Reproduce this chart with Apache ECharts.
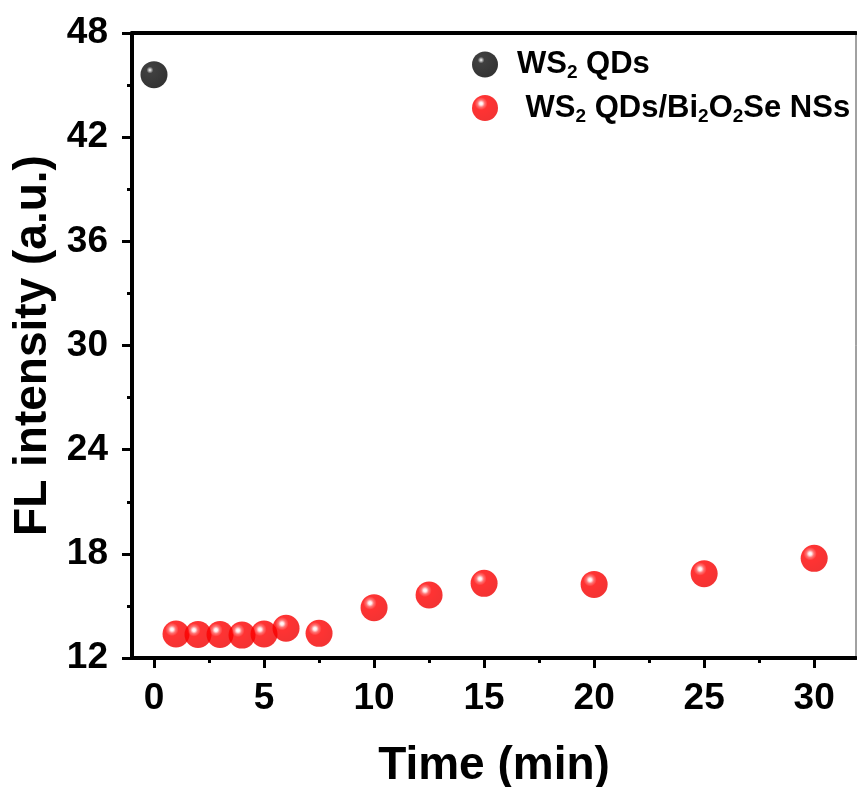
<!DOCTYPE html>
<html>
<head>
<meta charset="utf-8">
<script src="https://cdn.jsdelivr.net/npm/echarts@6/dist/echarts.min.js"></script>
<style>html,body{margin:0;padding:0;background:#fff;}#c{width:857px;height:787px;}</style>
</head>
<body>
<div id="c"></div>
<script>
const timeBlack = [0];
const fluBlack = [45.6];
const timeRed = [1, 2, 3, 4, 5, 6, 7.5, 10, 12.5, 15, 20, 25, 30];
const fluRed = [13.38, 13.35, 13.35, 13.32, 13.38, 13.71, 13.42, 14.90, 15.63, 16.30, 16.24, 16.86, 17.74];
const xTicks = [0, 5, 10, 15, 20, 25, 30];
const xMinorTicks = [2.5, 7.5, 12.5, 17.5, 22.5, 27.5];
const seriesNames = ['WS2 QDs', 'WS2 QDs/Bi2O2Se NSs'];
const legendLabels = {
  'WS2 QDs': '{a|WS}{s|2}{t| QDs}',
  'WS2 QDs/Bi2O2Se NSs': '{a| WS}{s|2}{t| QDs/Bi}{s|2}{t|O}{s|2}{t|Se NSs}'
};

const FONT = '"Liberation Sans", Arial, sans-serif';
const chart = echarts.init(document.getElementById('c'), null, {renderer: 'canvas'});

function pair(xs, ys) { return xs.map((x, i) => [x, ys[i]]); }

const redBall = {
  type: 'radial', x: 0.35, y: 0.33, r: 0.7,
  colorStops: [
    {offset: 0, color: '#ffffff'},
    {offset: 0.08, color: '#ffe8e8'},
    {offset: 0.2, color: '#ff5050'},
    {offset: 0.35, color: '#ff0000'},
    {offset: 1, color: '#f00000'}
  ]
};
const blackBall = {
  type: 'radial', x: 0.35, y: 0.33, r: 0.7,
  colorStops: [
    {offset: 0, color: '#ffffff'},
    {offset: 0.06, color: '#b0b0b0'},
    {offset: 0.18, color: '#101010'},
    {offset: 1, color: '#000000'}
  ]
};

const axisLineStyle = {color: '#000', width: 4};
const grid = {left: 132, top: 33, width: 724, height: 625, show: true, borderColor: '#444', borderWidth: 1, outerBoundsMode: 'none', containLabel: false};

chart.setOption({
  animation: false,
  backgroundColor: '#fff',
  grid: grid,
  legend: {
    orient: 'vertical',
    left: 467, top: 44,
    itemWidth: 26, itemHeight: 26, itemGap: 10,
    data: seriesNames,
    formatter: n => legendLabels[n],
    textStyle: {
      color: '#000', fontFamily: FONT, fontWeight: 'bold', fontSize: 31,
      rich: {
        a: {fontSize: 31, fontWeight: 'bold', fontFamily: FONT, color: '#000', lineHeight: 36, padding: [0, 0, 0, 14]},
        t: {fontSize: 31, fontWeight: 'bold', fontFamily: FONT, color: '#000', lineHeight: 36},
        s: {fontSize: 19, fontWeight: 'bold', fontFamily: FONT, color: '#000', lineHeight: 19, verticalAlign: 'bottom'}
      }
    }
  },
  xAxis: [
    {
      type: 'value', min: -1, max: 31.9, position: 'bottom',
      name: 'Time (min)', nameLocation: 'middle', nameGap: 85,
      nameTextStyle: {fontFamily: FONT, fontWeight: 'bold', fontSize: 46, color: '#000'},
      axisLine: {show: true, onZero: false, lineStyle: axisLineStyle},
      axisTick: {show: true, length: 10, lineStyle: {color: '#000', width: 3}, customValues: xTicks},
      axisLabel: {customValues: xTicks, margin: 22, fontFamily: FONT, fontWeight: 'bold', fontSize: 37, color: '#000'},
      splitLine: {show: false}
    },
    {
      type: 'value', min: -1, max: 31.9, position: 'bottom',
      axisLine: {show: false, onZero: false},
      axisTick: {show: true, length: 5, lineStyle: {color: '#000', width: 3}, customValues: xMinorTicks},
      axisLabel: {show: false},
      splitLine: {show: false}
    },
    {
      type: 'value', min: -1, max: 31.9, position: 'top',
      axisLine: {show: true, onZero: false, lineStyle: axisLineStyle},
      axisTick: {show: false}, axisLabel: {show: false}, splitLine: {show: false}
    }
  ],
  yAxis: [{
    type: 'value', min: 12, max: 48, interval: 6, position: 'left',
    name: 'FL intensity (a.u.)', nameLocation: 'middle', nameGap: 72,
    nameTextStyle: {fontFamily: FONT, fontWeight: 'bold', fontSize: 46, color: '#000'},
    axisLine: {show: true, onZero: false, lineStyle: axisLineStyle},
    axisTick: {show: true, length: 10, lineStyle: {color: '#000', width: 3}},
    minorTick: {show: true, splitNumber: 2, length: 5, lineStyle: {color: '#000', width: 3}},
    axisLabel: {margin: 24, fontFamily: FONT, fontWeight: 'bold', fontSize: 37, color: '#000'},
    splitLine: {show: false}
  }],
  series: [
    {
      name: seriesNames[0], type: 'scatter', xAxisIndex: 0,
      symbol: 'circle', symbolSize: 27,
      itemStyle: {color: blackBall},
      data: pair(timeBlack, fluBlack)
    },
    {
      name: seriesNames[1], type: 'scatter', xAxisIndex: 0,
      symbol: 'circle', symbolSize: 27,
      itemStyle: {color: redBall},
      data: pair(timeRed, fluRed)
    }
  ]
});
</script>
</body>
</html>
